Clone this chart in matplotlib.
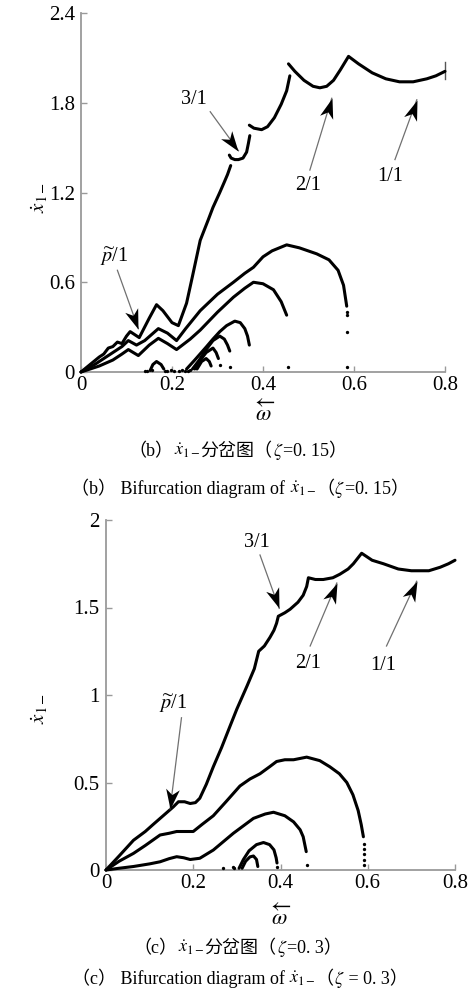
import numpy as np
import matplotlib
matplotlib.use("Agg")
import matplotlib.pyplot as plt
from matplotlib.markers import MarkerStyle
from matplotlib.path import Path
from matplotlib.transforms import Affine2D

plt.rcParams["mathtext.fontset"] = "stix"
plt.rcParams["font.family"] = ["Liberation Serif", "Noto Sans CJK SC", "DejaVu Serif"]

# ---------------- (b) zeta = 0.15 ----------------
b_main1_w = [0, 0.02, 0.04, 0.05, 0.06, 0.07, 0.08, 0.09, 0.10, 0.108, 0.118, 0.128, 0.15, 0.166,
             0.18, 0.20, 0.214, 0.232, 0.245, 0.262, 0.28, 0.29, 0.305, 0.315, 0.322, 0.329]
b_main1_v = [0, 0.05, 0.10, 0.12, 0.16, 0.17, 0.20, 0.19, 0.24, 0.27, 0.25, 0.23, 0.36, 0.45,
             0.41, 0.33, 0.31, 0.46, 0.64, 0.88, 1.02, 1.10, 1.20, 1.27, 1.32, 1.38]
b_main2_w = [0.326, 0.330, 0.338, 0.346, 0.356, 0.364, 0.368, 0.371]
b_main2_v = [1.45, 1.43, 1.42, 1.42, 1.43, 1.47, 1.53, 1.58]
b_main3_w = [0.370, 0.38, 0.397, 0.41, 0.425, 0.44, 0.452, 0.459]
b_main3_v = [1.65, 1.63, 1.62, 1.64, 1.70, 1.79, 1.88, 1.98]
b_main4_w = [0.456, 0.47, 0.49, 0.51, 0.525, 0.54, 0.555, 0.57, 0.588,
             0.61, 0.64, 0.67, 0.70, 0.73, 0.76, 0.78, 0.80]
b_main4_v = [2.06, 2.01, 1.95, 1.91, 1.90, 1.91, 1.95, 2.02, 2.11,
             2.06, 2.00, 1.96, 1.94, 1.94, 1.96, 1.98, 2.01]
b_edge_w = [0.80, 0.80]
b_edge_v = [1.96, 2.07]

b_c2_w = [0, 0.03, 0.05, 0.07, 0.09, 0.104, 0.122, 0.14, 0.17, 0.19, 0.21, 0.23, 0.262, 0.30,
          0.335, 0.36, 0.379, 0.40, 0.42, 0.452, 0.48, 0.518, 0.545, 0.565, 0.577, 0.584]
b_c2_v = [0, 0.05, 0.09, 0.13, 0.17, 0.21, 0.18, 0.21, 0.29, 0.26, 0.21, 0.29, 0.41, 0.52,
          0.60, 0.66, 0.70, 0.77, 0.81, 0.85, 0.83, 0.79, 0.75, 0.68, 0.58, 0.44]
b_c2_dots_w = [0.585, 0.585, 0.585, 0.585]
b_c2_dots_v = [0.40, 0.38, 0.27, 0.035]

b_c3_w = [0, 0.04, 0.07, 0.09, 0.104, 0.126, 0.15, 0.17, 0.19, 0.21, 0.24, 0.262, 0.30,
          0.335, 0.36, 0.379, 0.40, 0.423, 0.44, 0.452]
b_c3_v = [0, 0.04, 0.08, 0.12, 0.15, 0.11, 0.18, 0.225, 0.19, 0.15, 0.22, 0.28, 0.40,
          0.50, 0.56, 0.60, 0.59, 0.55, 0.47, 0.38]
b_c3_dots_w = [0.456]
b_c3_dots_v = [0.035]

b_c4_w = [0.232, 0.25, 0.276, 0.29, 0.305, 0.32, 0.338, 0.35, 0.36, 0.366, 0.370]
b_c4_v = [0.02, 0.08, 0.17, 0.22, 0.27, 0.31, 0.34, 0.33, 0.29, 0.24, 0.18]
b_c5_w = [0.245, 0.26, 0.275, 0.29, 0.305, 0.315, 0.322, 0.327]
b_c5_v = [0.02, 0.08, 0.15, 0.21, 0.24, 0.22, 0.18, 0.14]
b_c6_w = [0.25, 0.26, 0.275, 0.29, 0.297, 0.302]
b_c6_v = [0.02, 0.07, 0.13, 0.16, 0.13, 0.09]
b_c7_w = [0.255, 0.265, 0.275, 0.282, 0.286]
b_c7_v = [0.02, 0.07, 0.09, 0.07, 0.04]
b_c8_w = [0.152, 0.158, 0.166, 0.176, 0.182]
b_c8_v = [0.01, 0.05, 0.07, 0.05, 0.02]
b_floor_w = [0.14, 0.146, 0.155, 0.185, 0.19, 0.198, 0.205, 0.215, 0.222, 0.228, 0.235, 0.24,
             0.305, 0.327]
b_floor_v = [0.01, 0.006, 0.012, 0.01, 0.008, 0.015, 0.006, 0.01, 0.012, 0.008, 0.01, 0.012,
             0.05, 0.035]

# ---------------- (c) zeta = 0.3 ----------------
c_main_w = [0, 0.03, 0.063, 0.09, 0.108, 0.131, 0.154, 0.166, 0.18, 0.193, 0.205, 0.215, 0.23,
            0.246, 0.265, 0.284, 0.30, 0.323, 0.34, 0.35, 0.363, 0.376, 0.385, 0.391, 0.395,
            0.41, 0.422, 0.44, 0.452, 0.46, 0.464, 0.48, 0.498, 0.52, 0.536, 0.555, 0.567,
            0.586, 0.61, 0.636, 0.67, 0.70, 0.716, 0.74, 0.766, 0.785, 0.80]
c_main_v = [0, 0.08, 0.17, 0.22, 0.26, 0.31, 0.36, 0.39, 0.39, 0.38, 0.385, 0.41, 0.49,
            0.59, 0.70, 0.82, 0.92, 1.05, 1.15, 1.25, 1.28, 1.33, 1.37, 1.41, 1.45,
            1.47, 1.49, 1.53, 1.57, 1.62, 1.67, 1.66, 1.66, 1.67, 1.69, 1.72, 1.75,
            1.81, 1.77, 1.75, 1.72, 1.71, 1.71, 1.71, 1.73, 1.75, 1.77]

c_c2_w = [0, 0.03, 0.063, 0.09, 0.124, 0.145, 0.162, 0.18, 0.2, 0.22, 0.246, 0.275, 0.307,
          0.33, 0.353, 0.375, 0.391, 0.41, 0.43, 0.46, 0.49, 0.513, 0.535, 0.552, 0.566,
          0.578, 0.585, 0.59]
c_c2_v = [0, 0.05, 0.095, 0.14, 0.2, 0.21, 0.22, 0.22, 0.22, 0.26, 0.31, 0.39, 0.48,
          0.52, 0.55, 0.59, 0.62, 0.63, 0.63, 0.645, 0.625, 0.59, 0.55, 0.50, 0.43,
          0.34, 0.26, 0.19]
c_c2_dots_w = [0.592, 0.592, 0.592, 0.592, 0.592]
c_c2_dots_v = [0.15, 0.12, 0.09, 0.06, 0.03]

c_c3_w = [0, 0.03, 0.063, 0.1, 0.124, 0.145, 0.162, 0.178, 0.193, 0.215, 0.246, 0.292, 0.338,
          0.365, 0.384, 0.41, 0.43, 0.445, 0.452, 0.459]
c_c3_v = [0, 0.01, 0.02, 0.035, 0.047, 0.065, 0.076, 0.07, 0.06, 0.067, 0.114, 0.21, 0.295,
          0.32, 0.33, 0.31, 0.275, 0.23, 0.19, 0.105]
c_c3_dots_w = [0.46]
c_c3_dots_v = [0.03]

c_c4_w = [0.305, 0.315, 0.328, 0.345, 0.361, 0.375, 0.385, 0.39, 0.392]
c_c4_v = [0.01, 0.06, 0.11, 0.145, 0.157, 0.145, 0.115, 0.07, 0.04]
c_c5_w = [0.312, 0.32, 0.33, 0.338, 0.345, 0.348]
c_c5_v = [0.01, 0.05, 0.075, 0.08, 0.06, 0.02]
c_floor_w = [0.268, 0.29, 0.293, 0.392]
c_floor_v = [0.01, 0.015, 0.01, 0.015]

x_ticks = [0, 0.2, 0.4, 0.6, 0.8]
x_ticklabels = ["0", "0.2", "0.4", "0.6", "0.8"]
b_yticks = [0, 0.6, 1.2, 1.8, 2.4]
b_yticklabels = ["0", "0.6", "1.2", "1.8", "2.4"]
c_yticks = [0, 0.5, 1, 1.5, 2]
c_yticklabels = ["0", "0.5", "1", "1.5", "2"]

W, H = 474, 999
fig = plt.figure(figsize=(W / 100, H / 100), dpi=100)
ax1 = fig.add_axes([81 / W, 1 - 372 / H, 364 / W, 359 / H])
ax2 = fig.add_axes([106 / W, 1 - 870 / H, 349 / W, 350 / H])

AXIS_GREY = "#9a9a9a"
TICK_SIZE = 15
NOTE_SIZE = 14.5


def style_axes(ax, yticks, yticklabels):
    ax.set_xlim(0, 0.8)
    ax.set_ylim(yticks[0], yticks[-1])
    for s in ("top", "right"):
        ax.spines[s].set_visible(False)
    for s in ("left", "bottom"):
        ax.spines[s].set_color(AXIS_GREY)
        ax.spines[s].set_linewidth(1.3)
    ax.set_xticks(x_ticks, x_ticklabels)
    ax.set_yticks(yticks, yticklabels)
    ax.tick_params(direction="in", length=4, width=1, color=AXIS_GREY,
                   labelsize=TICK_SIZE)
    ax.tick_params(axis="x", pad=3)
    ax.tick_params(axis="y", pad=4.5)
    ax.set_xlabel(r"$\overleftarrow{\omega}$", fontsize=16)
    ax.set_ylabel(r"$\dot{x}_{1-}$", fontsize=15)


def curve(ax, w, v):
    ax.plot(w, v, color="black", lw=2.2, solid_joinstyle="round",
            solid_capstyle="round", clip_on=False, zorder=3)


def dots(ax, w, v):
    ax.plot(w, v, "o", color="black", ms=2.4, mew=0, clip_on=False, zorder=3)


HEAD = Path([(0, 0), (-1, 0.34), (-0.72, 0), (-1, -0.34), (0, 0)],
            [Path.MOVETO, Path.LINETO, Path.LINETO, Path.LINETO, Path.CLOSEPOLY])


def pointer(ax, label, text_xy, tail, tip):
    ax.text(text_xy[0], text_xy[1], label, fontsize=NOTE_SIZE, ha="center", va="center")
    ax.plot([tail[0], tip[0]], [tail[1], tip[1]], color="#707070", lw=0.9, zorder=4)
    p0 = ax.transData.transform(tail)
    p1 = ax.transData.transform(tip)
    ang = np.degrees(np.arctan2(p1[1] - p0[1], p1[0] - p0[0]))
    m = MarkerStyle(HEAD, transform=Affine2D().rotate_deg(ang))
    ax.plot([tip[0]], [tip[1]], marker=m, ms=29, color="black", mew=0, zorder=5)


# panel (b)
style_axes(ax1, b_yticks, b_yticklabels)
for w, v in [(b_main1_w, b_main1_v), (b_main2_w, b_main2_v), (b_main3_w, b_main3_v),
             (b_main4_w, b_main4_v), (b_c2_w, b_c2_v), (b_c3_w, b_c3_v),
             (b_c4_w, b_c4_v), (b_c5_w, b_c5_v), (b_c6_w, b_c6_v),
             (b_c7_w, b_c7_v), (b_c8_w, b_c8_v)]:
    curve(ax1, w, v)
for w, v in [(b_c2_dots_w, b_c2_dots_v), (b_c3_dots_w, b_c3_dots_v), (b_floor_w, b_floor_v)]:
    dots(ax1, w, v)
ax1.plot(b_edge_w, b_edge_v, color="#555555", lw=1.0, clip_on=False)
ax1.xaxis.set_label_coords(0.505, -0.08)
ax1.yaxis.set_label_coords(-0.085, 0.485)

pointer(ax1, "3/1", (0.247, 1.82), (0.284, 1.74), (0.346, 1.48))
pointer(ax1, "2/1", (0.50, 1.25), (0.503, 1.35), (0.551, 1.83))
pointer(ax1, "1/1", (0.679, 1.31), (0.69, 1.42), (0.738, 1.82))
pointer(ax1, r"$\widetilde{p}$/1", (0.073, 0.77), (0.08, 0.68), (0.126, 0.29))

# panel (c)
style_axes(ax2, c_yticks, c_yticklabels)
for w, v in [(c_main_w, c_main_v), (c_c2_w, c_c2_v), (c_c3_w, c_c3_v),
             (c_c4_w, c_c4_v), (c_c5_w, c_c5_v)]:
    curve(ax2, w, v)
for w, v in [(c_c2_dots_w, c_c2_dots_v), (c_c3_dots_w, c_c3_dots_v), (c_floor_w, c_floor_v)]:
    dots(ax2, w, v)
ax2.xaxis.set_label_coords(0.501, -0.1)
ax2.yaxis.set_label_coords(-0.16, 0.46)

pointer(ax2, "3/1", (0.345, 1.87), (0.353, 1.80), (0.397, 1.495))
pointer(ax2, "2/1", (0.464, 1.18), (0.468, 1.28), (0.529, 1.64))
pointer(ax2, "1/1", (0.636, 1.17), (0.643, 1.28), (0.712, 1.65))
pointer(ax2, r"$\widetilde{p}$/1", (0.154, 0.95), (0.173, 0.87), (0.147, 0.35))

# captions, assembled from text and math pieces and centred as a whole
renderer = fig.canvas.get_renderer()


def caption(xc_px, y_px, pieces, size=13):
    texts = [fig.text(0, 1 - y_px / H, s, ha="left", va="baseline", fontsize=size)
             for s in pieces]
    widths = [t.get_window_extent(renderer).width for t in texts]
    x = xc_px - sum(widths) / 2
    for t, wdt in zip(texts, widths):
        t.set_x(x / W)
        x += wdt


XD = r"$\dot{x}_{1-}$"
ZT = r"$\zeta$"
caption(238, 456, ["（b）", XD, "分岔图（", ZT, "=0. 15）"])
caption(240, 494, ["（b） Bifurcation diagram of ", XD, "（", ZT, "=0. 15）"])
caption(238, 953, ["（c）", XD, "分岔图（", ZT, "=0. 3）"])
caption(240, 984, ["（c） Bifurcation diagram of ", XD, "（", ZT, " = 0. 3）"])

fig.savefig("out.png", dpi=100)
